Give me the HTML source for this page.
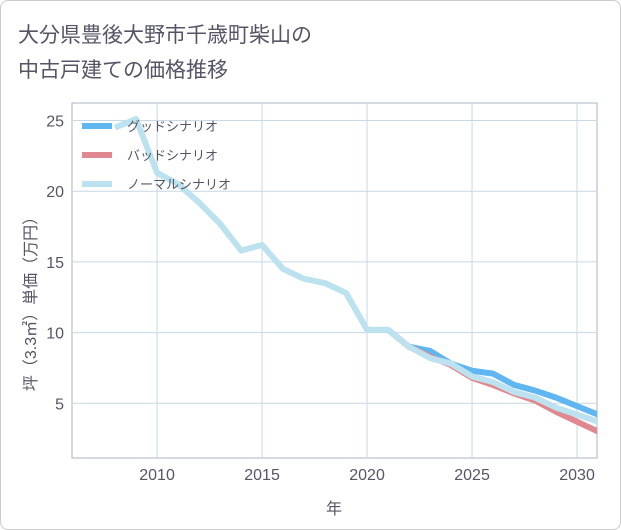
<!DOCTYPE html>
<html><head><meta charset="utf-8"><style>
body{margin:0;background:#fff}
#wrap{position:relative;width:621px;height:530px;box-sizing:border-box;border:1px solid #ccc;border-radius:8px;background:#fff;overflow:hidden}
#chart{position:absolute;left:-1px;top:-1px}
svg text{font-family:"Liberation Sans","Noto Sans CJK JP",sans-serif}
</style></head><body>
<div id="wrap">
<svg id="chart" width="621" height="530">
<text x="18" y="42" font-size="21" fill="#556">大分県豊後大野市千歳町柴山の</text>
<text x="18" y="77" font-size="21" fill="#556">中古戸建ての価格推移</text>
<g id="grid"></g><g id="lines"></g><g id="axes"></g>
</svg></div>
<script>
const years=[2008,2009,2010,2011,2012,2013,2014,2015,2016,2017,2018,2019,2020,2021,2022,2023,2024,2025,2026,2027,2028,2029,2030,2031];
const normalVals=[24.5,25.1,21.3,20.5,19.2,17.7,15.8,16.2,14.5,13.8,13.5,12.8,10.2,10.2,9.0,8.2,7.8,6.9,6.5,5.8,5.4,4.7,4.2,3.7];
const futureYears=[2021,2022,2023,2024,2025,2026,2027,2028,2029,2030,2031];
const goodVals=[10.2,9.0,8.7,7.8,7.3,7.1,6.3,5.9,5.4,4.8,4.2];
const badVals=[10.2,9.0,8.3,7.7,6.8,6.3,5.7,5.2,4.4,3.7,3.0];
const xTicks=[2010,2015,2020,2025,2030];
const yTicks=[5,10,15,20,25];
const L=72,R=597,T=103,B=458;
const x=v=>L+(v-2005.95)*21;
const y=v=>474-v*14.14;
const NS="http://www.w3.org/2000/svg";
function mk(p,t,a){const e=document.createElementNS(NS,t);for(const k in a)e.setAttribute(k,a[k]);p.appendChild(e);return e;}
const g=document.getElementById('grid'),ln=document.getElementById('lines'),ax=document.getElementById('axes');
mk(g,'rect',{x:L,y:T,width:R-L,height:B-T,fill:'none',stroke:'#aab4c0'});
xTicks.forEach(t=>{const l=mk(g,'line',{x1:x(t),x2:x(t),y1:T,y2:B,stroke:'#c8d8e4'});


const tx=mk(ax,'text',{x:x(t),y:B+22,'font-size':16,fill:'#556','text-anchor':'middle'});tx.textContent=t;

});
yTicks.forEach(t=>{const l=mk(g,'line',{x1:L,x2:R,y1:y(t),y2:y(t),stroke:'#c8d8e4'});


const tx=mk(ax,'text',{x:L-8,y:y(t)+6,'font-size':16,fill:'#556','text-anchor':'end'});tx.textContent=t;

});
function path(xs,vs,c,name){const d=xs.map((v,i)=>(i?'L':'M')+x(v)+','+y(vs[i])).join('');
const p=mk(ln,'path',{d:d,fill:'none',stroke:c,'stroke-width':6,'stroke-linejoin':'round'});

}
const cp=mk(ln,'clipPath',{id:'cp'});mk(cp,'rect',{x:L,y:T,width:R-L,height:B-T});
ln.setAttribute('clip-path','url(#cp)');
path(futureYears,goodVals,'#60b6f0','good-scenario-line');
path(futureYears,badVals,'#e0888f','bad-scenario-line');
path(years,normalVals,'#bde2ef','normal-scenario-line');
const leg=[['グッドシナリオ','#60b6f0','legend-good'],['バッドシナリオ','#e0888f','legend-bad'],['ノーマルシナリオ','#bde2ef','legend-normal']];
leg.forEach((e,i)=>{const yy=126+i*29;
const r=mk(ax,'rect',{x:82,y:yy-3,width:30,height:6,fill:e[1]});


const t=mk(ax,'text',{x:127,y:yy+5,'font-size':13,fill:'#556'});t.textContent=e[0];

});
const xt=mk(ax,'text',{x:334,y:514,'font-size':16,fill:'#556','text-anchor':'middle'});xt.textContent='年';


const yt=mk(ax,'text',{x:0,y:0,'font-size':16,fill:'#556','text-anchor':'middle',transform:'translate(36,300) rotate(-90)'});yt.textContent='坪（3.3㎡）単価（万円）';


</script>
</body></html>
